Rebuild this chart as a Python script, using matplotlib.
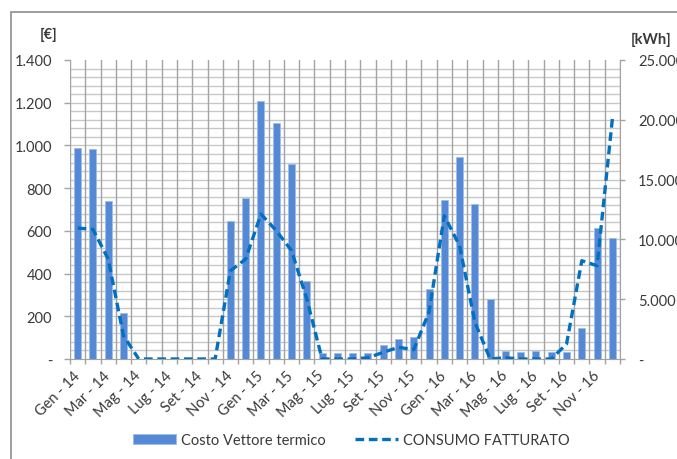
import numpy as np
import matplotlib
matplotlib.use('Agg')
import matplotlib.pyplot as plt
from matplotlib.patches import Rectangle

plt.rcParams['font.family'] = ['Lato', 'DejaVu Sans']

# --- Dati mensili ---
mesi = ['Gen', 'Feb', 'Mar', 'Apr', 'Mag', 'Giu', 'Lug', 'Ago', 'Set', 'Ott', 'Nov', 'Dic']
anni = ['14', '15', '16']
etichette = [f'{m} - {a}' for a in anni for m in mesi]

costo_euro = [988, 983, 741, 215, 0, 0, 0, 0, 0, 0, 645, 754,
              1209, 1103, 913, 367, 28, 30, 30, 30, 67, 94, 101, 328,
              744, 948, 725, 281, 38, 34, 38, 34, 34, 144, 612, 567]

consumo_kwh = [10950, 10840, 8360, 1950, 0, 0, 0, 0, 0, 0, 7380, 8360,
               12120, 10730, 9060, 5020, 0, 0, 0, 100, 560, 980, 780, 3930,
               11980, 9470, 3090, 0, 100, 0, 0, 0, 1250, 8220, 7800, 20070]

W, H = 677, 460
fig = plt.figure(figsize=(W / 100, H / 100), dpi=100)
px = 72 / 100  # punti per pixel

# cornice del grafico
fig.patches.append(Rectangle((11 / W, -0.1), 1.2, (H - 13) / H + 0.1,
                             transform=fig.transFigure, fill=False,
                             edgecolor='#8c8c8c', linewidth=1.2))

ax = fig.add_axes([70 / W, 100 / H, 550 / W, 299 / H])
ax2 = ax.twinx()

x = np.arange(len(etichette))
ax.bar(x, costo_euro, width=0.46, color='#5589d6', edgecolor='#9dbde8',
       linewidth=0.6, zorder=3, label='Costo Vettore termico')
ax2.plot(x, consumo_kwh, color='#0070c0', linestyle=(0, (2.6, 1.4)),
         linewidth=2.4, label='CONSUMO FATTURATO', zorder=4)

ax.set_xlim(-0.5, len(x) - 0.5)
ax.set_ylim(0, 1400)
ax2.set_ylim(0, 25000)

def fmt_migliaia(v):
    if v == 0:
        return '-'
    return f'{int(v):,}'.replace(',', '.')

# griglia orizzontale ogni 40 €
for v in np.arange(40, 1400, 40):
    ax.axhline(v, color='#c8c8c8', linewidth=1.0, zorder=1)
# griglia verticale ai bordi delle categorie
for b in np.arange(-0.5, len(x), 1.0):
    ax.axvline(b, color='#a3a3a3', linewidth=1.0, zorder=1)

ax.set_yticks(np.arange(0, 1401, 200))
ax.set_yticklabels([fmt_migliaia(v) for v in np.arange(0, 1401, 200)])
ax2.set_yticks(np.arange(0, 25001, 5000))
ax2.set_yticklabels([fmt_migliaia(v) for v in np.arange(0, 25001, 5000)])

ax.set_xticks(np.arange(-0.5, len(x), 1.0))
ax.set_xticklabels([])
ax.set_xticks(x[::2], minor=True)
ax.set_xticklabels(etichette[::2], minor=True, rotation=45, ha='right',
                   va='center', rotation_mode='anchor')

testo = '#3a3a3a'
ax.tick_params(axis='x', which='major', length=5 * px, color='#a3a3a3', width=1)
ax.tick_params(axis='x', which='minor', length=0, pad=14 * px, labelsize=10.5,
               labelcolor=testo)
ax.tick_params(axis='y', length=6 * px, color='#a3a3a3', width=1, pad=12 * px,
               labelsize=10.5, labelcolor=testo)
ax2.tick_params(axis='y', length=5 * px, color='#a3a3a3', width=1, pad=13 * px,
                labelsize=10.5, labelcolor=testo)

for a in (ax, ax2):
    for s in a.spines.values():
        s.set_visible(False)
ax2.spines['right'].set_visible(True)
ax2.spines['right'].set_color('#a3a3a3')
ax.spines['bottom'].set_visible(True)
ax.spines['bottom'].set_color('#a3a3a3')

fig.text(49 / W, 1 - 35 / H, '[€]', fontsize=10.5, fontweight='bold',
         color=testo, ha='center', va='center')
fig.text(651 / W, 1 - 40 / H, '[kWh]', fontsize=10.5, fontweight='bold',
         color=testo, ha='center', va='center')

h1, l1 = ax.get_legend_handles_labels()
h2, l2 = ax2.get_legend_handles_labels()
fig.legend(h1 + h2, l1 + l2, loc='center', bbox_to_anchor=(351 / W, 1 - 441 / H),
           ncol=2, frameon=False, fontsize=10.5, handlelength=3.0,
           columnspacing=2.0, handletextpad=0.3, labelcolor=testo)

fig.savefig('out.png', dpi=100)
